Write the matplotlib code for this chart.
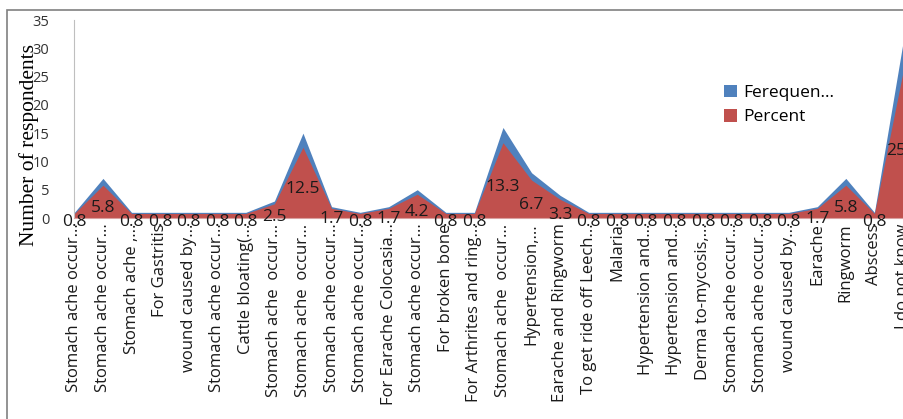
import matplotlib
matplotlib.use("Agg")
import matplotlib.pyplot as plt
from matplotlib.patches import Rectangle, Patch

# Uses reported by respondents
categories = [
    "Stomach ache occur...", "Stomach ache occur...", "Stomach ache ,...",
    "For Gastritis", "wound caused by...", "Stomach ache occur...",
    "Cattle bloating(...", "Stomach ache  occur...", "Stomach ache  occur...",
    "Stomach ache occur...", "Stomach ache occur...", "For Earache Colocasia...",
    "Stomach ache occur...", "For broken bone", "For Arthrites and ring...",
    "Stomach ache  occur...", "Hypertension,...", "Earache and Ringworm",
    "To get ride off Leech...", "Malaria", "Hypertension and...",
    "Hypertension and...", "Derma to-mycosis,...", "Stomach ache occur...",
    "Stomach ache occur...", "wound caused by...", "Earache", "Ringworm",
    "Abscess", "I do not know",
]

# Number of respondents per use
frequency = [1, 7, 1, 1, 1, 1, 1, 3, 15, 2, 1, 2, 5, 1, 1,
             16, 8, 4, 1, 1, 1, 1, 1, 1, 1, 1, 2, 7, 1, 31]

# Share of respondents (%)
percent = [0.8, 5.8, 0.8, 0.8, 0.8, 0.8, 0.8, 2.5, 12.5, 1.7, 0.8, 1.7, 4.2, 0.8, 0.8,
           13.3, 6.7, 3.3, 0.8, 0.8, 0.8, 0.8, 0.8, 0.8, 0.8, 0.8, 1.7, 5.8, 0.8, 25.8]

series_names = ["Ferequen...", "Percent"]
y_ticks = [0, 5, 10, 15, 20, 25, 30, 35]

BLUE = "#4F81BD"
RED = "#C0504D"
FONT = "Open Sans"
W, H = 904, 419

fig = plt.figure(figsize=(W / 100, H / 100), dpi=100)
ax = fig.add_axes([74.4 / W, 1 - 218 / H, (903 - 74.4) / W, (218 - 20) / H])

x = list(range(len(categories)))
ax.fill_between(x, frequency, 0, color=BLUE, lw=0)
ax.fill_between(x, percent, 0, color=RED, lw=0)

for xi, p in zip(x, percent):
    ax.annotate(f"{p:g}", (xi, p / 2), xytext=(0, -3), textcoords="offset points",
                ha="center", va="center_baseline", fontsize=12.5, family=FONT,
                color="#1a1a1a")

ax.set_xlim(0, len(categories) - 1)
ax.set_ylim(0, 35)
ax.set_yticks(y_ticks)
ax.set_yticklabels([str(t) for t in y_ticks], family=FONT, fontsize=10.5, color="#333333")
ax.set_xticks(x)
ax.set_xticklabels(categories, rotation=90, ha="center", va="top",
                   family=FONT, fontsize=12, color="#1a1a1a")
ax.tick_params(axis="x", length=0, pad=4)
ax.tick_params(axis="y", length=0, pad=18)

for side in ("top", "right"):
    ax.spines[side].set_visible(False)
ax.spines["left"].set_color("#BFBFBF")
ax.spines["bottom"].set_color("#D9A0A0")

ax.set_ylabel("Number of respondents", family="Liberation Serif", fontsize=15.5)
ax.yaxis.set_label_coords(-0.043, 0.37)

handles = [Patch(facecolor=BLUE, edgecolor="none"),
           Patch(facecolor=RED, edgecolor="none")]
fig.legend(handles, series_names, loc="upper left",
           bbox_to_anchor=(708 / W, 1 - 69 / H), frameon=False,
           handlelength=0.75, handleheight=0.75, handletextpad=0.4,
           labelspacing=0.45, prop={"family": FONT, "size": 12.5})

# Outer chart frame
fig.patches.append(Rectangle((7 / W, -0.1), 1.2, 1 - 10 / H + 0.1,
                             transform=fig.transFigure, fill=False,
                             edgecolor="#808080", lw=1.2))

fig.savefig("out.png", dpi=100)
